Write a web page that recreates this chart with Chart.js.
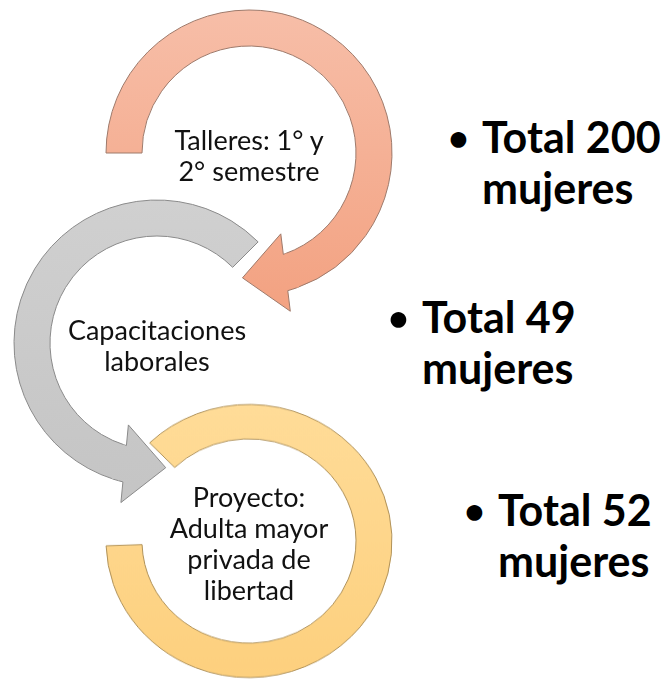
<!DOCTYPE html>
<html lang="es">
<head>
<meta charset="utf-8">
<script src="https://cdn.jsdelivr.net/npm/chart.js@4.4.1/dist/chart.umd.min.js"></script>
<style>
  html, body { margin: 0; padding: 0; background: #fff; }
  #stage { position: relative; width: 662px; height: 679px; overflow: hidden; font-family: Lato, 'Noto Sans', sans-serif; }
  .ring { position: absolute; }
  .step { position: absolute; transform: translate(-50%, -50%); text-align: center; font-size: 27px; line-height: 31px; color: #111; white-space: nowrap; }
  .total { position: absolute; font-weight: bold; font-size: 43px; line-height: 51px; color: #000; white-space: nowrap; }
  .total .dot { position: absolute; left: -34px; top: 1px; font-size: 36px; line-height: 51px; }
</style>
</head>
<body>
<div id="stage"></div>
<script>
// data
const steps = [
    ['Talleres: 1° y', '2° semestre'],
    ['Capacitaciones', 'laborales'],
    ['Proyecto:', 'Adulta mayor', 'privada de', 'libertad']
];
const totals = [200, 49, 52];
const unit = 'mujeres';

// layout: ring centres, arc extents (degrees clockwise from 3 o'clock), colours
const R = 143, r = 107, box = 340;
const rings = [
    { cx: 249, cy: 153, sy: 1, from: 180, to: 430.5, arrow: { at: 'end', lead: 2.5, sweep: 20, halfWidth: 39 },
      fill: ['#F7BEA8', '#F3A383'], line: '#9E7A6B' },
    { cx: 157, cy: 343, sy: 1, from: 107.5, to: 315, arrow: { at: 'start', lead: 2.5, sweep: 19, halfWidth: 39 },
      fill: ['#D0D0D0', '#C5C5C5'], line: '#8A8A8A' },
    { cx: 249, cy: 541, sy: 0.955, from: 226, to: 538, arrow: null,
      fill: ['#FFDC98', '#FDD07E'], line: '#B0925A' }
];
const totalPos = [{ x: 482, y: 111 }, { x: 422, y: 291 }, { x: 498, y: 484 }];

const rad = d => d * Math.PI / 180;

function ringGradient(ctx, cy, stops) {
    const g = ctx.createLinearGradient(0, cy - R, 0, cy + R);
    g.addColorStop(0, stops[0]);
    g.addColorStop(1, stops[1]);
    return g;
}

// draws the arrow head at one end of the first arc, using the arc element geometry
const arrowHead = {
    id: 'arrowHead',
    afterDatasetsDraw(chart, args, opts) {
        if (!opts || !opts.at) return;
        const arc = chart.getDatasetMeta(0).data[0];
        const { x, y, startAngle, endAngle, innerRadius, outerRadius } =
            arc.getProps(['x', 'y', 'startAngle', 'endAngle', 'innerRadius', 'outerRadius'], true);
        const dir = opts.at === 'end' ? 1 : -1;
        const end = dir > 0 ? endAngle : startAngle;
        const base = end + dir * rad(opts.lead);
        const rm = (innerRadius + outerRadius) / 2;
        const M = [x + rm * Math.cos(base), y + rm * Math.sin(base)];
        const tipA = base + dir * rad(opts.sweep);
        const T = [x + rm * Math.cos(tipA), y + rm * Math.sin(tipA)];
        let ux = T[0] - M[0], uy = T[1] - M[1];
        const len = Math.hypot(ux, uy);
        ux /= len; uy /= len;
        let nx = -uy, ny = ux;
        if (nx * (M[0] - x) + ny * (M[1] - y) < 0) { nx = -nx; ny = -ny; }
        const hw = opts.halfWidth;
        const Bout = [M[0] + nx * hw, M[1] + ny * hw];
        const Bin = [M[0] - nx * hw, M[1] - ny * hw];
        const hit = rr => {
            const dx = M[0] - x, dy = M[1] - y;
            const b = dx * nx + dy * ny, c = dx * dx + dy * dy - rr * rr;
            const t = -b + Math.sqrt(b * b - c);
            return [M[0] + nx * t, M[1] + ny * t];
        };
        const Nin = hit(innerRadius), Nout = hit(outerRadius);
        const aIn = Math.atan2(Nin[1] - y, Nin[0] - x);
        const aOut = Math.atan2(Nout[1] - y, Nout[0] - x);
        const back = end - dir * rad(1);
        const ctx = chart.ctx;
        ctx.save();
        ctx.beginPath();
        ctx.arc(x, y, innerRadius, back, aIn, dir < 0);
        ctx.lineTo(Bin[0], Bin[1]);
        ctx.lineTo(T[0], T[1]);
        ctx.lineTo(Bout[0], Bout[1]);
        ctx.lineTo(Nout[0], Nout[1]);
        ctx.arc(x, y, outerRadius, aOut, back, dir > 0);
        ctx.closePath();
        ctx.fillStyle = ringGradient(ctx, y, opts.fill);
        ctx.fill();
        ctx.beginPath();
        ctx.arc(x, y, innerRadius, end, aIn, dir < 0);
        ctx.lineTo(Bin[0], Bin[1]);
        ctx.lineTo(T[0], T[1]);
        ctx.lineTo(Bout[0], Bout[1]);
        ctx.lineTo(Nout[0], Nout[1]);
        ctx.arc(x, y, outerRadius, aOut, end, dir > 0);
        ctx.strokeStyle = opts.line;
        ctx.lineWidth = 1;
        ctx.lineJoin = 'miter';
        ctx.stroke();
        ctx.restore();
    }
};

const stage = document.getElementById('stage');

rings.forEach((g, i) => {
    const canvas = document.createElement('canvas');
    canvas.className = 'ring';
    canvas.width = box;
    canvas.height = box;
    canvas.style.left = (g.cx - box / 2) + 'px';
    canvas.style.top = (g.cy - box / 2) + 'px';
    if (g.sy !== 1) canvas.style.transform = 'scaleY(' + g.sy + ')';
    stage.appendChild(canvas);

    const span = g.to - g.from;
    new Chart(canvas.getContext('2d'), {
        type: 'doughnut',
        data: {
            labels: [steps[i].join(' '), ''],
            datasets: [{
                data: [span, 360 - span],
                backgroundColor: c => {
                    if (c.dataIndex !== 0) return 'rgba(0,0,0,0)';
                    const a = c.chart.chartArea;
                    const cy = a ? (a.top + a.bottom) / 2 : box / 2;
                    return ringGradient(c.chart.ctx, cy, g.fill);
                },
                borderColor: c => c.dataIndex === 0 ? g.line : 'rgba(0,0,0,0)',
                borderWidth: c => c.dataIndex === 0 ? 1 : 0
            }]
        },
        options: {
            responsive: false,
            animation: false,
            events: [],
            rotation: g.from + 90,
            radius: R,
            cutout: (r / R * 100) + '%',
            layout: { padding: 0 },
            plugins: {
                legend: { display: false },
                tooltip: { enabled: false },
                arrowHead: g.arrow ? Object.assign({ fill: g.fill, line: g.line }, g.arrow) : {}
            }
        },
        plugins: [arrowHead]
    });
});

// step labels inside the rings
rings.forEach((g, i) => {
    const el = document.createElement('div');
    el.className = 'step';
    el.style.left = g.cx + 'px';
    el.style.top = (g.cy + 2) + 'px';
    el.innerHTML = steps[i].join('<br>');
    stage.appendChild(el);
});

// totals on the right
totals.forEach((n, i) => {
    const el = document.createElement('div');
    el.className = 'total';
    el.style.left = totalPos[i].x + 'px';
    el.style.top = totalPos[i].y + 'px';
    el.innerHTML = '<span class="dot">•</span>Total ' + n + '<br>' + unit;
    stage.appendChild(el);
});
</script>
</body>
</html>
